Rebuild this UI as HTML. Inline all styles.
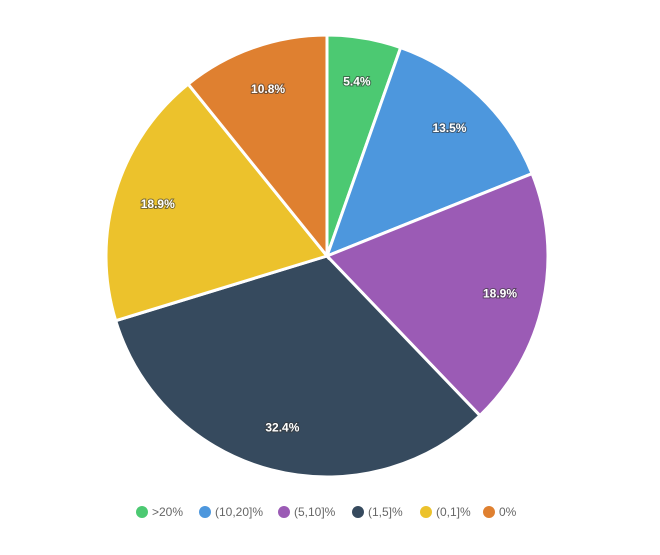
<!DOCTYPE html>
<html><head><meta charset="utf-8"><style>
body{margin:0;background:#fff;width:660px;height:550px;overflow:hidden;font-family:"Liberation Sans",Arial,sans-serif}
</style></head><body>
<svg width="660" height="550">
<g id="slices"></g>
<g id="labels"></g>
<g id="legend"></g>
</svg>
<script>
const categories=[">20%","(10,20]%","(5,10]%","(1,5]%","(0,1]%","0%"];
const values=[2,5,7,12,7,4];
const colors=["#4cc972","#4d97dd","#9b5bb5","#364a5e","#ecc22c","#df8030"];
const legendX=[142,205,284,358,426,489];
const cx=327,cy=256,R=221,NS="http://www.w3.org/2000/svg";
const total=values.reduce((a,b)=>a+b,0);
let a=0;
const sG=document.getElementById('slices'),lG=document.getElementById('labels'),gG=document.getElementById('legend');
values.forEach((v,i)=>{
  const a0=a,a1=a+v/total*2*Math.PI;a=a1;
  const pt=(ang,r)=>[cx+r*Math.sin(ang),cy-r*Math.cos(ang)];
  const p0=pt(a0,R),p1=pt(a1,R);
  const p=document.createElementNS(NS,'path');
  p.setAttribute('d',`M${cx},${cy}L${p0[0]},${p0[1]}A${R},${R} 0 ${a1-a0>Math.PI?1:0} 1 ${p1[0]},${p1[1]}Z`);
  p.setAttribute('fill',colors[i]);p.setAttribute('stroke','#fff');p.setAttribute('stroke-width','3');
  
  
  sG.appendChild(p);
  const lp=pt((a0+a1)/2,177);
  const t=document.createElementNS(NS,'text');
  t.setAttribute('x',lp[0]);t.setAttribute('y',lp[1]+4);t.setAttribute('text-anchor','middle');
  t.setAttribute('font-size','12');t.setAttribute('font-weight','bold');t.setAttribute('fill','#fff');
  t.setAttribute('style','paint-order:stroke;stroke:#333;stroke-width:2px;stroke-opacity:.6');
  t.textContent=(v/total*100).toFixed(1)+'%';
  
  
  lG.appendChild(t);
  const c=document.createElementNS(NS,'circle');
  c.setAttribute('cx',legendX[i]);c.setAttribute('cy',512);c.setAttribute('r',6);c.setAttribute('fill',colors[i]);
  
  
  gG.appendChild(c);
  const lt=document.createElementNS(NS,'text');
  lt.setAttribute('x',legendX[i]+10);lt.setAttribute('y',516);lt.setAttribute('font-size','12');lt.setAttribute('fill','#666');
  lt.textContent=categories[i];
  
  
  gG.appendChild(lt);
});
</script>
</body></html>
